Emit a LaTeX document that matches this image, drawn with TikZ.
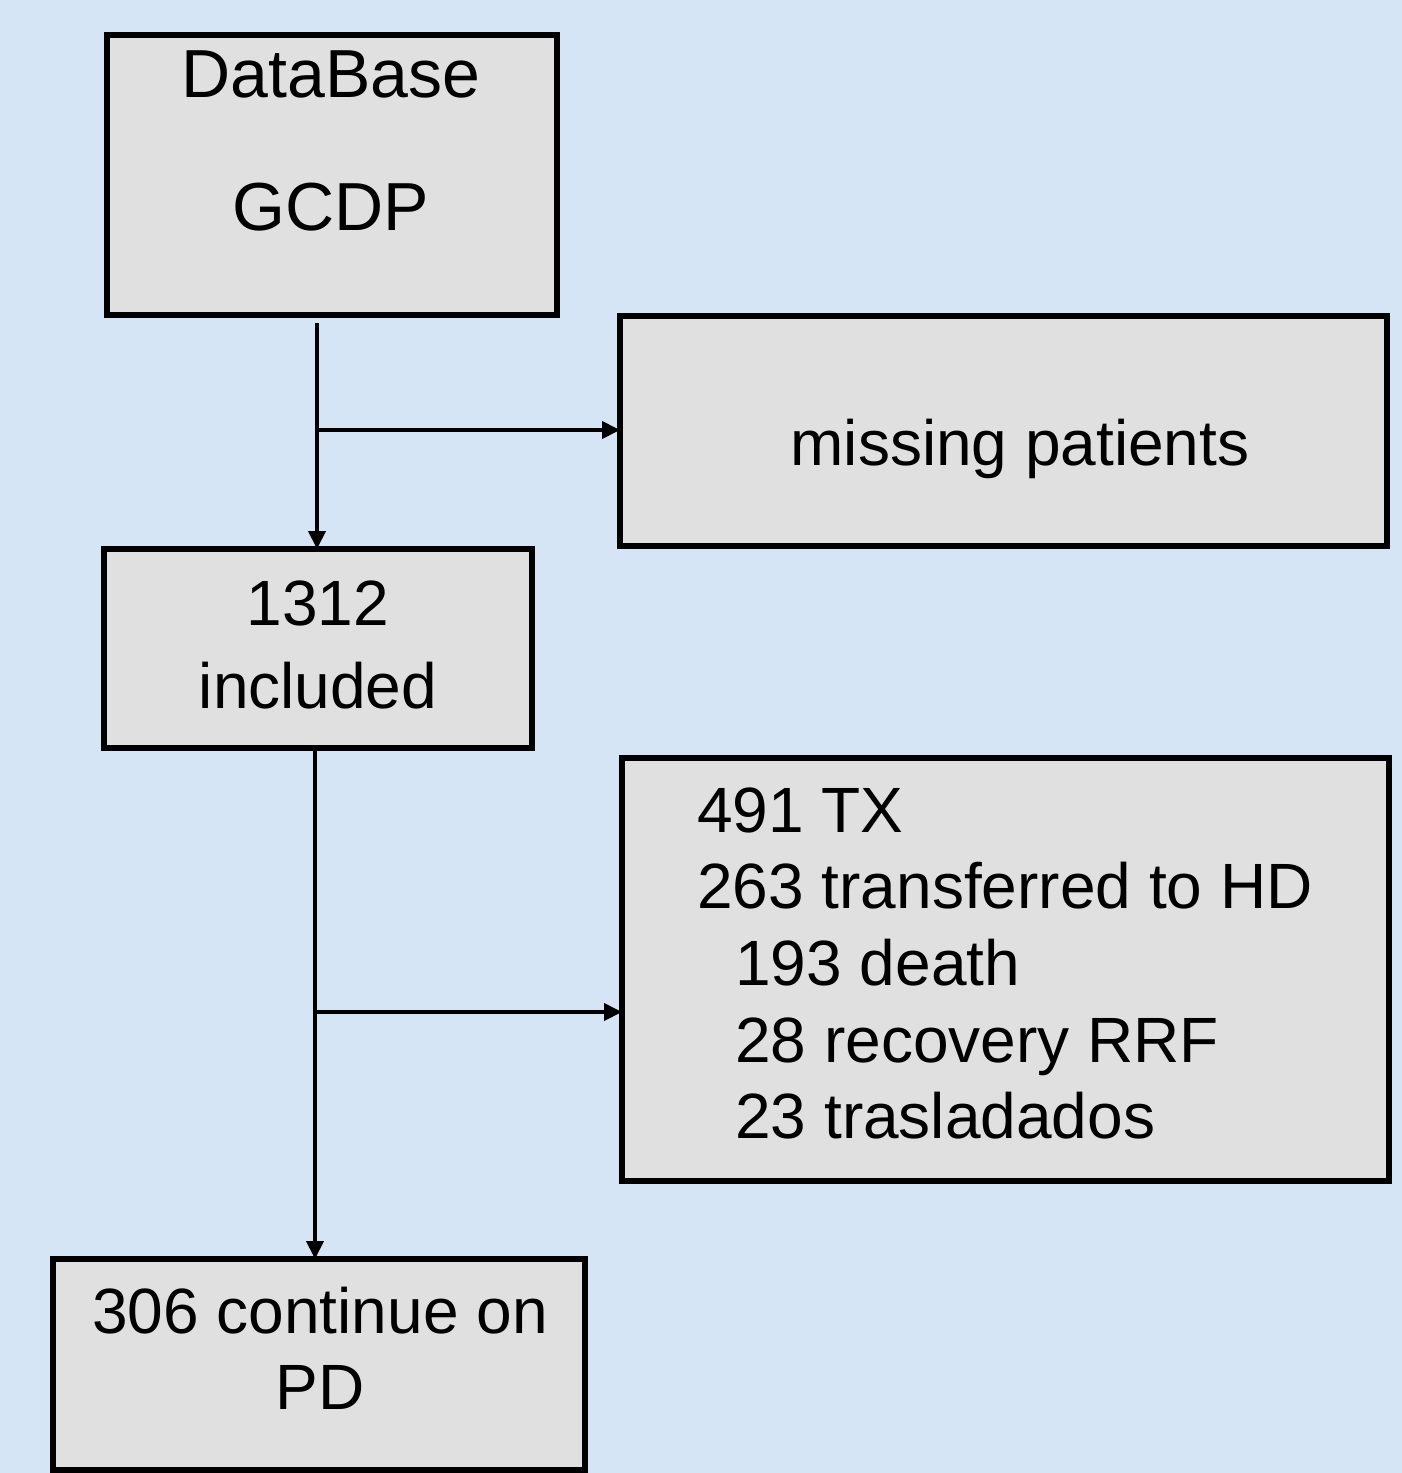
\documentclass[tikz,border=0pt]{standalone}
\usepackage{fontspec}
\setmainfont{Liberation Sans}
\usetikzlibrary{arrows.meta}
\definecolor{bgblue}{RGB}{214,229,245}
\definecolor{boxgray}{RGB}{224,224,224}
\begin{document}
\begin{tikzpicture}[x=0.5pt,y=-0.5pt,
  box/.style={draw=black, line width=2.6pt, fill=boxgray, inner sep=0pt, outer sep=0pt},
  big/.style={font=\fontsize{34}{40}\selectfont, inner sep=0pt, anchor=base},
  txt/.style={font=\fontsize{32}{38}\selectfont, inner sep=0pt, anchor=base},
  ltxt/.style={font=\fontsize{32}{38}\selectfont, inner sep=0pt, anchor=base west},
  arr/.style={draw=black, line width=2pt, -{Triangle[length=9pt,width=8.5pt]}},
  ln/.style={draw=black, line width=2pt}]
\useasboundingbox (0,0) rectangle (1402,1473);
\clip (0,0) rectangle (1402,1473);
\fill[bgblue] (0,0) rectangle (1402,1473);

% boxes
\node[box, minimum width=225pt, minimum height=140pt] (db) at (332,175) {};
\node[box, minimum width=383.5pt, minimum height=115pt] (miss) at (1003.5,431) {};
\node[box, minimum width=214pt, minimum height=99.5pt] (inc) at (318,648.5) {};
\node[box, minimum width=383.5pt, minimum height=211.5pt] (out) at (1005.5,969.5) {};
\node[box, minimum width=266pt, minimum height=105.5pt] (cont) at (319,1364.5) {};

% texts
\node[big] (t1) at (331,97) {DataBase};
\node[big] (t2) at (331,230) {GCDP};
\node[txt] (t3) at (1020,465) {missing patients};
\node[txt] (t4) at (318,625) {1312};
\node[txt] (t5) at (318,708) {included};
\node[ltxt] (t6) at (697,832) {491 TX};
\node[ltxt] (t7) at (697,908) {263 transferred to HD};
\node[ltxt] (t8) at (735,985) {193 death};
\node[ltxt] (t9) at (735,1062) {28 recovery RRF};
\node[ltxt] (t10) at (735,1138) {23 trasladados};
\node[txt] (t11) at (320,1333) {306 continue on};
\node[txt] (t12) at (320,1409) {PD};

% connectors
\coordinate (j1) at (317,430);
\coordinate (j2) at (315,1012);
\draw[arr] ([yshift=-4pt]j1 |- db.south) -- (j1 |- inc.north);
\draw[arr] (j1) -- (j1 -| miss.west);
\draw[arr] (j2 |- inc.south) -- (j2 |- cont.north);
\draw[arr] (j2) -- (j2 -| out.west);
\end{tikzpicture}
\end{document}
